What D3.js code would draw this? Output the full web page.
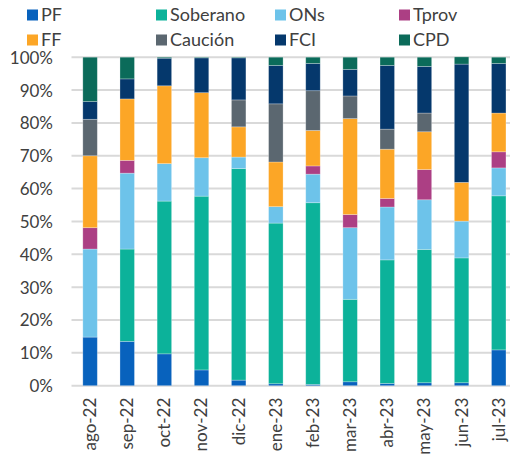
<!DOCTYPE html>
<html>
<head>
<meta charset="utf-8">
<script src="https://cdn.jsdelivr.net/npm/d3@7"></script>
<style>
  html, body { margin: 0; padding: 0; background: #fff; }
  #chart { width: 510px; height: 459px; overflow: hidden; }
</style>
</head>
<body>
<div id="chart"></div>
<script>
/* Composición por instrumento, ago-22 a jul-23 (% del total) */

const months = ['ago-22', 'sep-22', 'oct-22', 'nov-22', 'dic-22', 'ene-23',
                'feb-23', 'mar-23', 'abr-23', 'may-23', 'jun-23', 'jul-23'];

const seriesNames = ['PF', 'Soberano', 'ONs', 'Tprov', 'FF', 'Caución', 'FCI', 'CPD'];

const PF       = [14.8, 13.5,  9.7,  4.8,  1.7,  0.6,  0.4,  1.2,  0.7,  0.9,  0.9, 10.9];
const Soberano = [ 0.0, 28.1, 46.5, 52.9, 64.4, 48.9, 55.3, 25.1, 37.6, 40.6, 38.0, 46.9];
const ONs      = [26.8, 23.1, 11.4, 11.7,  3.5,  5.0,  8.7, 21.8, 16.1, 15.1, 11.2,  8.5];
const Tprov    = [ 6.5,  3.9,  0.0,  0.0,  0.0,  0.0,  2.5,  4.0,  2.6,  9.2,  0.0,  4.9];
const FF       = [21.9, 18.7, 23.7, 19.8,  9.2, 13.6, 10.8, 29.2, 15.0, 11.5, 11.8, 11.8];
const Caucion  = [11.1,  0.0,  0.0,  0.0,  8.2, 17.7, 12.1,  6.9,  6.1,  5.7,  0.0,  0.0];
const FCI      = [ 5.4,  6.1,  8.4, 10.6, 12.8, 11.7,  8.3,  8.1, 19.4, 14.2, 36.0, 15.1];
const CPD      = [13.5,  6.6,  0.3,  0.2,  0.2,  2.5,  1.9,  3.7,  2.5,  2.8,  2.2,  1.9];

const yTicks = [0, 10, 20, 30, 40, 50, 60, 70, 80, 90, 100];

const colors = {
  'PF': '#0862bd',
  'Soberano': '#0cb29a',
  'ONs': '#6dc3ea',
  'Tprov': '#ac3f84',
  'FF': '#fca626',
  'Caución': '#5b6770',
  'FCI': '#05386c',
  'CPD': '#0b6b5a'
};

document.addEventListener('DOMContentLoaded', () => {
  renderChart('#chart');
});

function renderChart(selector) {
  const width = 510, height = 459;
  const FONT = 'Lato, "Open Sans", sans-serif';
  const TEXT = '#404040';

  const valuesBySeries = [PF, Soberano, ONs, Tprov, FF, Caucion, FCI, CPD];
  const table = months.map((m, i) => {
    const row = { month: m };
    seriesNames.forEach((s, k) => { row[s] = valuesBySeries[k][i]; });
    return row;
  });

  const svg = d3.select(selector)
    .append('svg')
    .attr('width', width)
    .attr('height', height);

  // plot area runs a little past the right edge, like the original
  const x = d3.scaleBand()
    .domain(months)
    .range([71.5, 517.3])
    .paddingInner(0.61)
    .paddingOuter(0.305);

  const y = d3.scaleLinear()
    .domain([0, 100])
    .range([385.7, 57.2]);

  // ── Gridlines ──────────────────────────────────────
  svg.append('g')
    .selectAll('line')
    .data(yTicks)
    .join('line')
    .attr('x1', 71.5)
    .attr('x2', width)
    .attr('y1', d => y(d))
    .attr('y2', d => y(d))
    .attr('stroke', '#d9d9d9')
    .attr('stroke-width', 2);

  // ── Y axis ─────────────────────────────────────────
  svg.append('g')
    .attr('transform', 'translate(63,0)')
    .call(d3.axisLeft(y).tickValues(yTicks).tickSize(0).tickPadding(10)
      .tickFormat(d => d + '%'))
    .call(g => g.select('.domain').remove())
    .call(g => g.selectAll('.tick text')
      .attr('fill', TEXT)
      .attr('font-family', FONT)
      .attr('font-size', 17)
      .attr('dy', '0.35em'));

  // ── Stacked bars ───────────────────────────────────
  const stack = d3.stack().keys(seriesNames);
  const layers = stack(table);

  svg.append('g')
    .selectAll('g')
    .data(layers)
    .join('g')
    .attr('fill', d => colors[d.key])
    .selectAll('rect')
    .data(d => d)
    .join('rect')
    .attr('x', d => x(d.data.month))
    .attr('width', x.bandwidth())
    .attr('y', d => y(d[1]))
    .attr('height', d => Math.max(0, y(d[0]) - y(d[1])))
    .attr('stroke', '#ffffff')
    .attr('stroke-opacity', 0.35)
    .attr('stroke-width', 0.75);

  // ── X axis (rotated labels) ────────────────────────
  svg.append('g')
    .attr('transform', 'translate(0,385.7)')
    .call(d3.axisBottom(x).tickSize(0).tickPadding(0))
    .call(g => g.select('.domain').remove())
    .call(g => g.selectAll('.tick text')
      .attr('fill', TEXT)
      .attr('font-family', FONT)
      .attr('font-size', 17)
      .attr('text-anchor', 'end')
      .attr('transform', 'rotate(-90)')
      .attr('x', -12)
      .attr('y', 0)
      .attr('dy', '0.35em'));

  // ── Legend ─────────────────────────────────────────
  const legendPos = [
    [27, 15], [156, 15], [275, 15], [399, 15],
    [27, 40], [156, 40], [275, 40], [399, 40]
  ];

  const legend = svg.append('g')
    .selectAll('g')
    .data(seriesNames)
    .join('g')
    .attr('transform', (d, i) => `translate(${legendPos[i][0]},${legendPos[i][1]})`);

  legend.append('rect')
    .attr('x', 0)
    .attr('y', -5.5)
    .attr('width', 11)
    .attr('height', 11)
    .attr('fill', d => colors[d]);

  legend.append('text')
    .attr('x', 14)
    .attr('y', 0)
    .attr('dy', '0.35em')
    .attr('fill', TEXT)
    .attr('font-family', FONT)
    .attr('font-size', 18)
    .text(d => d);
}
</script>
</body>
</html>
